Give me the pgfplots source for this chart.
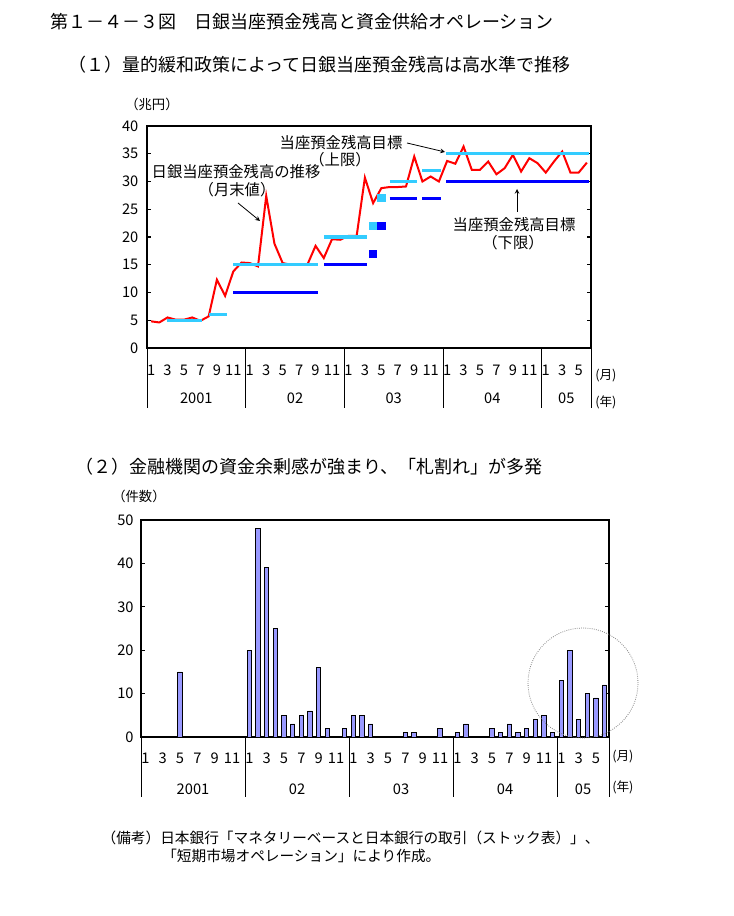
\documentclass[border=0pt]{standalone}
\usepackage{fontspec}
\setmainfont{Noto Sans CJK JP}
\usepackage{pgfplots}
\pgfplotsset{compat=1.18}
\definecolor{sky}{HTML}{33CCFF}
\definecolor{dblue}{HTML}{0000FF}
\definecolor{barc}{HTML}{9999FF}
\newcommand{\fs}[1]{\fontsize{#1}{#1}\selectfont}
\begin{document}
\begin{tikzpicture}
\path[use as bounding box] (0,0) rectangle (550.5pt,687pt);
% ---------- top chart ----------
\begin{axis}[
  at={(110.25pt,426pt)}, anchor=south west, scale only axis,
  width=333pt, height=166.5pt,
  xmin=-0.5, xmax=53.5, ymin=0, ymax=40,
  axis line style={line width=1.5pt},
  ytick={0,5,...,40}, ytick align=inside, major tick length=3pt,
  y tick style={line width=0.8pt, black},
  xtick={0,2,...,52},
  xticklabels={1,3,5,7,9,11,1,3,5,7,9,11,1,3,5,7,9,11,1,3,5,7,9,11,1,3,5},
  x tick style={draw=none},
  xticklabel style={anchor=center, yshift=-16.5pt, font=\fs{11}},
  yticklabel style={font=\fs{11}, xshift=-3pt},
  /pgf/number format/assume math mode=true,
  clip=false,
]
\addplot[red, line width=1.5pt] coordinates {
(0,4.8)(1,4.6)(2,5.5)(3,5.1)(4,5.1)(5,5.5)(6,4.9)(7,5.7)(8,12.3)(9,9.4)(10,13.8)(11,15.4)
(12,15.3)(13,14.7)(14,27.4)(15,18.8)(16,15.3)(17,15.0)(18,15.0)(19,15.0)(20,18.4)(21,16.2)(22,19.6)(23,19.5)
(24,20.2)(25,20.2)(26,30.7)(27,26.1)(28,28.8)(29,29.0)(30,29.0)(31,29.1)(32,34.5)(33,30.0)(34,30.9)(35,30.0)
(36,33.7)(37,33.2)(38,36.3)(39,32.1)(40,32.1)(41,33.6)(42,31.3)(43,32.4)(44,34.8)(45,31.8)(46,34.2)(47,33.3)
(48,31.6)(49,33.6)(50,35.4)(51,31.6)(52,31.6)(53,33.4)};
% upper targets
\addplot[sky, line width=2.3pt] coordinates {(1.9,5)(6.2,5)};
\addplot[sky, line width=2.3pt] coordinates {(7.0,6)(9.2,6)};
\addplot[sky, line width=2.3pt] coordinates {(9.96,15)(20.26,15)};
\addplot[sky, line width=2.3pt] coordinates {(21.0,20)(26.3,20)};
\addplot[sky, line width=2.3pt] coordinates {(29.0,30)(32.3,30)};
\addplot[sky, line width=2.3pt] coordinates {(32.96,32)(35.3,32)};
\addplot[sky, line width=2.3pt] coordinates {(35.9,35)(53.3,35)};
% lower targets
\addplot[dblue, line width=2.3pt] coordinates {(9.96,10)(20.26,10)};
\addplot[dblue, line width=2.3pt] coordinates {(21.0,15)(26.3,15)};
\addplot[dblue, line width=2.3pt] coordinates {(29.0,27)(32.3,27)};
\addplot[dblue, line width=2.3pt] coordinates {(32.96,27)(35.3,27)};
\addplot[dblue, line width=2.3pt] coordinates {(35.9,30)(53.3,30)};
% squares
\addplot[only marks, mark=square*, mark size=2.7pt, color=sky] coordinates {(27,22)(28,27)};
\addplot[only marks, mark=square*, mark size=2.7pt, color=dblue] coordinates {(27,17)(28,22)};
\pgfplotsinvokeforeach{-0.5,11.5,23.5,35.5,47.5,53.5}{
  \draw[line width=0.7pt] (axis cs:#1,0) -- ++(0pt,-45pt);
}
\foreach \c/\y in {5.5/2001,17.5/02,29.5/03,41.5/04,50.5/05}{
  \edef\temp{\noexpand\node[font=\noexpand\fs{11}] at (axis cs:\c,0) [yshift=-37.5pt] {\y};}\temp
}
\end{axis}
% ---------- bottom chart ----------
\begin{axis}[
  at={(105.75pt,134.25pt)}, anchor=south west, scale only axis,
  width=351pt, height=162.75pt,
  xmin=-0.5, xmax=53.5, ymin=0, ymax=50,
  axis line style={line width=1.5pt},
  ytick={0,10,...,50}, ytick align=inside, major tick length=3pt,
  y tick style={line width=0.8pt, black},
  xtick={0,2,...,52},
  xticklabels={1,3,5,7,9,11,1,3,5,7,9,11,1,3,5,7,9,11,1,3,5,7,9,11,1,3,5},
  x tick style={draw=none},
  xticklabel style={anchor=center, yshift=-15.75pt, font=\fs{11}},
  yticklabel style={font=\fs{11}, xshift=-2pt},
  /pgf/number format/assume math mode=true,
  clip=false,
]
\addplot[ybar, bar width=0.5, fill=barc, draw=black, line width=0.6pt] coordinates {
(4,15)(12,20)(13,48)(14,39)(15,25)(16,5)(17,3)(18,5)(19,6)(20,16)(21,2)(23,2)
(24,5)(25,5)(26,3)(30,1)(31,1)(34,2)(36,1)(37,3)(40,2)(41,1)(42,3)(43,1)(44,2)(45,4)(46,5)(47,1)
(48,13)(49,20)(50,4)(51,10)(52,9)(53,12)};
\pgfplotsinvokeforeach{-0.5,11.5,23.5,35.5,47.5,53.5}{
  \draw[line width=0.7pt] (axis cs:#1,0) -- ++(0pt,-45pt);
}
\foreach \c/\y in {5.5/2001,17.5/02,29.5/03,41.5/04,50.5/05}{
  \edef\temp{\noexpand\node[font=\noexpand\fs{11}] at (axis cs:\c,0) [yshift=-39pt] {\y};}\temp
}
\end{axis}
\draw[gray, densely dotted, line width=0.6pt] (437.25pt,174.75pt) circle (41.25pt);
% ---------- texts ----------
\node[anchor=west, inner sep=0pt, font=\fs{13.5}] at (37.5pt,670.5pt) {第１－４－３図　日銀当座預金残高と資金供給オペレーション};
\node[anchor=west, inner sep=0pt, font=\fs{13.5}] at (51pt,638.25pt) {（１）量的緩和政策によって日銀当座預金残高は高水準で推移};
\node[anchor=west, inner sep=0pt, font=\fs{10}] at (93.75pt,609pt) {（兆円）};
\node[inner sep=0pt, font=\fs{11.5}] at (177pt,558pt) {日銀当座預金残高の推移};
\node[inner sep=0pt, font=\fs{11.5}] at (177.75pt,544.5pt) {（月末値）};
\draw[-stealth, line width=0.6pt] (178.5pt,534.75pt) -- (195pt,521.25pt);
\node[inner sep=0pt, font=\fs{11.5}] at (255.75pt,579.75pt) {当座預金残高目標};
\node[inner sep=0pt, font=\fs{11.5}] at (255pt,567pt) {（上限）};
\draw[-stealth, line width=0.6pt] (305.25pt,579.75pt) -- (333.75pt,573pt);
\node[inner sep=0pt, font=\fs{11.5}] at (385.5pt,518.25pt) {当座預金残高目標};
\node[inner sep=0pt, font=\fs{11.5}] at (384.75pt,504.75pt) {（下限）};
\draw[-stealth, line width=0.6pt] (387.75pt,528pt) -- (387.75pt,545.25pt);
\node[anchor=west, inner sep=0pt, font=\fs{9.5}] at (446.25pt,405pt) {(月)};
\node[anchor=west, inner sep=0pt, font=\fs{9.5}] at (446.25pt,385.5pt) {(年)};
\node[anchor=west, inner sep=0pt, font=\fs{13.5}] at (56.25pt,336.75pt) {（２）金融機関の資金余剰感が強まり、「札割れ」が多発};
\node[anchor=west, inner sep=0pt, font=\fs{10}] at (84pt,315pt) {（件数）};
\node[anchor=west, inner sep=0pt, font=\fs{9.5}] at (459pt,119.25pt) {(月)};
\node[anchor=west, inner sep=0pt, font=\fs{9.5}] at (459pt,96.75pt) {(年)};
\node[anchor=west, inner sep=0pt, font=\fs{11}] at (76pt,58.5pt) {（備考）日本銀行「マネタリーベースと日本銀行の取引（ストック表）」、};
\node[anchor=west, inner sep=0pt, font=\fs{11}] at (121.5pt,45pt) {「短期市場オペレーション」により作成。};
\end{tikzpicture}
\end{document}
